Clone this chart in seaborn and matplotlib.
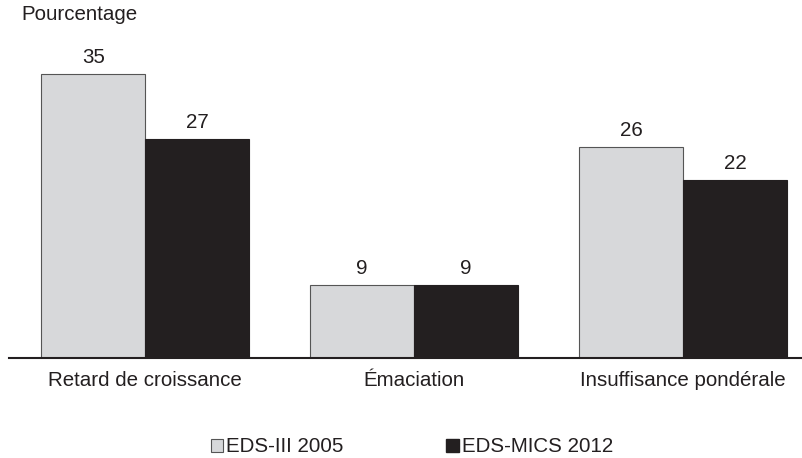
import matplotlib
matplotlib.use("Agg")
import matplotlib.pyplot as plt
import seaborn as sns
import pandas as pd
from matplotlib.patches import Patch

categories = ["Retard de croissance", "Émaciation", "Insuffisance pondérale"]
series = ["EDS-III 2005", "EDS-MICS 2012"]
eds2005 = [35, 9, 26]
eds2012 = [27, 9, 22]
colors = ["#d7d8da", "#231f20"]

df = pd.DataFrame({
    "cat": categories * 2,
    "serie": [series[0]] * 3 + [series[1]] * 3,
    "val": eds2005 + eds2012,
})

sns.set_theme(style="white")
plt.rcParams["font.family"] = ["Liberation Sans", "DejaVu Sans"]

FS = 14.8
TXT = "#231f20"
W, H = 803, 458
fig = plt.figure(figsize=(W / 100, H / 100), dpi=100)
ppu = 8.11
base = 358
top_val = 40
ax_top = base - top_val * ppu
ax = fig.add_axes([9 / W, (H - base) / H, (803 - 9) / W, (base - ax_top) / H])

sns.barplot(data=df, x="cat", y="val", hue="serie", palette=colors,
            order=categories, hue_order=series, width=0.773, ax=ax,
            edgecolor="#555555", linewidth=0.8, legend=False, saturation=1)
for p in ax.patches:
    if p.get_facecolor()[0] < 0.5:
        p.set_edgecolor(colors[1])

for c in ax.containers:
    ax.bar_label(c, labels=[f"{v:g}" for v in c.datavalues], padding=5,
                 fontsize=FS, color=TXT)

ax.set_xlim(-0.506, 2.445)
ax.set_ylim(0, top_val)
for s in ["top", "right", "left"]:
    ax.spines[s].set_visible(False)
ax.spines["bottom"].set_color(TXT)
ax.spines["bottom"].set_linewidth(1.5)
ax.set_yticks([])
ax.set_xlabel("")
ax.set_ylabel("")
ax.tick_params(axis="x", length=0, pad=9, labelsize=FS, colors=TXT)

fig.text(21 / W, 1 - 20 / H, "Pourcentage", fontsize=FS, va="baseline",
         ha="left", color=TXT)

handles = [Patch(facecolor=colors[0], edgecolor="#555555", linewidth=0.8),
           Patch(facecolor=colors[1], edgecolor=colors[1])]
fig.legend(handles, series, loc="center", bbox_to_anchor=(412 / W, 1 - 447 / H),
           ncol=2, frameon=False, fontsize=FS, handlelength=0.6,
           handleheight=0.6, handletextpad=0.15, columnspacing=5.0,
           labelcolor=TXT, borderpad=0, borderaxespad=0)

fig.savefig("out.png", dpi=100)
